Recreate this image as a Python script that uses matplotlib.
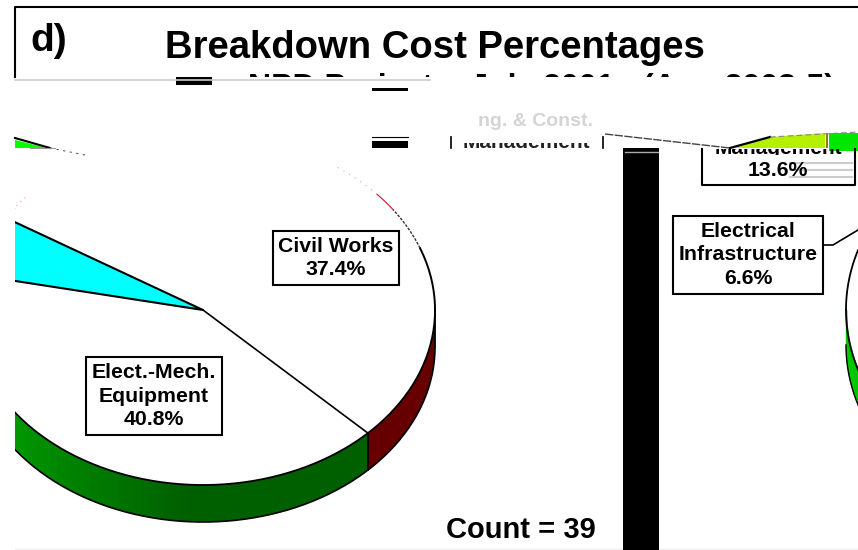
import numpy as np
import matplotlib
matplotlib.use("Agg")
import matplotlib.pyplot as plt
from matplotlib.patches import Rectangle, Polygon

plt.rcParams['font.family'] = ['Liberation Sans', 'DejaVu Sans']

# percentages
elect_mech = 40.8
infrastructure = 6.6
civil = 37.4
management = 13.6
count = 39
title = "Breakdown Cost Percentages"
subtitle = "NPD Projects: July 2001 - (Apr. 2003-5)"
mech_label = "Elect.-Mech.\nEquipment"
infra_label = "Electrical\nInfrastructure"

fig = plt.figure(figsize=(8.58, 5.5), dpi=100)
ax = fig.add_axes([0, 0, 1, 1])
ax.set_xlim(0, 858)
ax.set_ylim(550, 0)
ax.axis("off")

# pie geometry, in picture pixels
cx, cy, rx, ry, depth = 203, 310, 232, 175, 37
start = -44.7
perspective = 0.85  # far slices look thinner in the tilted pie


def rim_pts(a0, a1, c=(cx, cy), r=(rx, ry)):
    t = np.radians(np.linspace(a0, a1, 80))
    return c[0] + r[0] * np.cos(t), c[1] - r[1] * np.sin(t)


def rim_band(a0, a1, color):
    x, y = rim_pts(a0, a1)
    pts = np.r_[np.c_[x, y], np.c_[x[::-1], y[::-1] + depth]]
    ax.add_patch(Polygon(pts, closed=True, fc=color, ec="none", zorder=2))


def clipped_text(x, y, s, clip, **kw):
    t = ax.text(x, y, s, fontweight="bold", ha="center", va="center", zorder=9, **kw)
    t.set_clip_path(Rectangle(clip[:2], clip[2], clip[3], transform=ax.transData))
    t.set_clip_on(True)
    return t


mech_end = start - elect_mech * 3.6
infra_end = mech_end - infrastructure * 3.6 * perspective

# green side gets darker to the right
angles = np.linspace(-180, start, 70)
dark = np.array([0, 0x60, 0]) / 255
light = np.array([0, 0xc0, 0]) / 255
for a0, a1 in zip(angles[:-1], angles[1:]):
    k = min(1.0, (a0 + 180) / 85)
    rim_band(a0, a1 + 0.5, light + (dark - light) * k)
rim_band(start, 0, "#660000")

x, y = rim_pts(-180, 0)
ax.plot(x, y, color="black", lw=1.3, zorder=3)
ax.plot(x, y + depth, color="black", lw=1.2, zorder=3)
ax.plot([cx + rx, cx + rx], [cy, cy + depth], color="black", lw=1.3, zorder=3)
x, y = rim_pts(start, start)
ax.plot([x[0], x[0]], [y[0], y[0] + depth], color="black", lw=1.2, zorder=3)
ax.plot([cx, x[0]], [cy, y[0]], color="black", lw=1.2, zorder=3)

x, y = rim_pts(infra_end, mech_end)
ax.add_patch(Polygon(np.r_[[[cx, cy]], np.c_[x, y]], closed=True, fc="#00ffff", ec="none", zorder=3))
ax.plot([x[0], cx, x[-1]], [y[0], cy, y[-1]], color="black", lw=1.5, zorder=3)

# what is left of the top edge of the pie
x, y = rim_pts(0, 20.7)
ax.plot(x, y, color="black", lw=1.4, zorder=3)
x, y = rim_pts(20.7, 35)
ax.plot(x, y, color="#333333", lw=1.0, ls=(0, (2, 1)), zorder=3)
x, y = rim_pts(35, 41.4)
ax.plot(x, y, color="#d01030", lw=0.8, zorder=3)
x, y = rim_pts(41.4, 55)
ax.plot(x, y, color="#f0a0a8", lw=0.8, ls=(0, (1, 5)), zorder=3)
x, y = rim_pts(140, 148)
ax.plot(x, y, color="#f0a0a8", lw=0.8, ls=(0, (1, 4)), zorder=3)
x, y = rim_pts(148, 144.5)
ax.plot(x, y, color="black", lw=1.2, zorder=3)

# left and top of the picture are cut away
ax.add_patch(Rectangle((0, 120), 15, 430, fc="white", ec="none", zorder=4))
ax.add_patch(Rectangle((0, 81), 858, 67, fc="white", ec="none", zorder=5))
ax.add_patch(Polygon([(15, 140), (15, 148), (47, 148)], closed=True, fc="#00ff00", ec="none", zorder=6))
ax.plot([15, 50], [138, 148], color="black", lw=1.5, zorder=6)
ax.plot([50, 85], [148, 155], color="#555577", lw=0.8, ls=(0, (2, 4)), zorder=6)
ax.plot([30, 55], [148, 148], color="#999999", lw=0.8, zorder=6)

# second pie, mostly out of frame
c2, r2 = (1046, 310), (200, 175)
xa, ya = rim_pts(180, 215, c2, r2)
ax.fill_between(xa, ya, ya + 35, where=xa <= 858, color="#00c800", zorder=2)
ax.plot(xa, ya, color="black", lw=1.3, zorder=3)
ax.plot(xa, ya + 35, color="black", lw=1.0, zorder=3)
xb, yb = rim_pts(160, 180, c2, r2)
ax.plot(xb, yb, color="black", lw=1.3, zorder=3)
ax.add_patch(Rectangle((846, 100), 12, 150, fc="white", ec="none", zorder=2.5))

# broken piece of the top of another slice
ax.add_patch(Polygon([(735, 148), (770, 137), (825, 133), (825, 148)], closed=True, fc="#b4f000", ec="none", zorder=6))
ax.add_patch(Rectangle((826, 133), 2, 15, fc="#808000", ec="none", zorder=6))
ax.add_patch(Rectangle((829, 133), 29, 18, fc="#00e600", ec="none", zorder=6))
ax.plot([605, 730], [134, 148], color="#444444", lw=1, ls=(0, (6, 1)), zorder=7)
ax.plot([730, 770], [148, 137], color="black", lw=1.6, zorder=7)
ax.plot([770, 858], [137, 132], color="#888888", lw=0.8, ls=(0, (5, 3)), zorder=7)

# frame pieces
ax.plot([15, 15, 858], [77, 7, 7], color="black", lw=1.5, zorder=8)
ax.plot([15, 430], [80, 80], color="#cccccc", lw=1.2, zorder=8)
ax.plot([15, 858], [549, 549], color="#eeeeee", lw=1, zorder=8)
ax.add_patch(Rectangle((623, 148), 36, 402, fc="black", ec="none", zorder=8))
ax.plot([625, 658], [152, 152], color="#aaaaaa", lw=1, zorder=8)
ax.add_patch(Rectangle((176, 77), 36, 8, fc="black", ec="none", zorder=8))
ax.plot([176, 212], [80, 80], color="#cccccc", lw=1.2, zorder=8.5)
ax.add_patch(Rectangle((372, 88), 36, 3, fc="black", ec="none", zorder=8))
ax.plot([372, 408], [137, 137], color="black", lw=0.8, zorder=8)
ax.add_patch(Rectangle((372, 141), 36, 7, fc="black", ec="none", zorder=8))
ax.plot([451, 451], [137, 148], color="black", lw=1.2, zorder=8)
ax.plot([603, 603], [137, 148], color="black", lw=1.2, zorder=8)

# text
box = dict(fc="white", ec="black", lw=1.5, pad=4)
lab = dict(fontsize=15.3, fontweight="bold", ha="center", va="center", linespacing=1.3, bbox=box, zorder=9)
ax.text(30, 41, "d)", fontsize=28, fontweight="bold", va="center", zorder=9)
ax.text(435, 48, title, fontsize=27.5, fontweight="bold", ha="center", va="center", zorder=9)
ax.text(336, 258, f"Civil Works\n{civil}%", **lab)
ax.text(154, 396, f"{mech_label}\n{elect_mech}%", **lab)
ax.text(748, 255, f"{infra_label}\n{infrastructure}%", **lab)
ax.plot([824, 833, 858], [245, 245, 230], color="black", lw=1.2, zorder=9)
clipped_text(542, 88, subtitle, (225, 73, 633, 4), fontsize=23)
clipped_text(535, 122, "ng. & Const.", (400, 100, 300, 40), fontsize=14, color="#d4d4d4")
clipped_text(526, 142, "Management", (452, 143, 150, 5), fontsize=15, color="#222222")
clipped_text(778, 148, "Management", (702, 149, 153, 6), fontsize=15)
ax.plot([702, 702, 855, 855], [149, 185, 185, 149], color="black", lw=1.5, zorder=9)
for yy in [163, 170, 177]:
    ax.plot([790, 852], [yy, yy], color="#cccccc", lw=1.5, zorder=8.5)
ax.text(778, 170, f"{management}%", fontsize=15.3, fontweight="bold", ha="center", va="center", zorder=9)
ax.text(521, 530, f"Count = {count}", fontsize=21, fontweight="bold", ha="center", va="center", zorder=9)

fig.savefig("out.png", dpi=100)
